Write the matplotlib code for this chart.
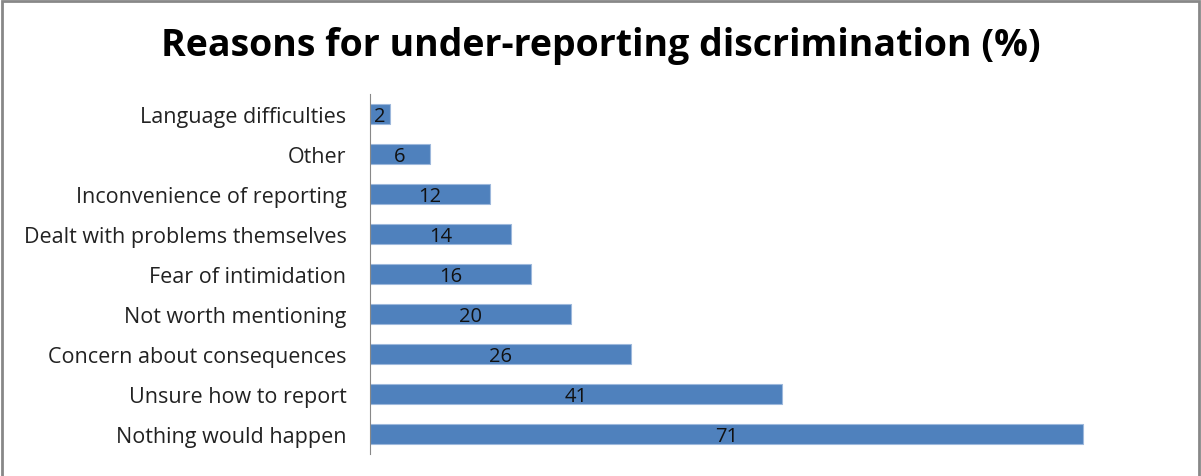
import matplotlib
matplotlib.use('Agg')
import matplotlib.pyplot as plt
from matplotlib.patches import Rectangle

# data, bottom to top as drawn
reasons = ['Nothing would happen', 'Unsure how to report', 'Concern about consequences',
           'Not worth mentioning', 'Fear of intimidation', 'Dealt with problems themselves',
           'Inconvenience of reporting', 'Other', 'Language difficulties']
percent = [71, 41, 26, 20, 16, 14, 12, 6, 2]

plt.rcParams['font.family'] = ['Open Sans', 'DejaVu Sans']

W, H = 1201, 477
fig = plt.figure(figsize=(W / 100, H / 100), dpi=100)
ax = fig.add_axes([370 / W, (H - 455) / H, 803 / W, 360 / H])

ypos = list(range(len(reasons)))
bars = ax.barh(ypos, percent, height=0.5, color='#4F81BD', edgecolor='#9DB8DC', linewidth=0.8)
for y, v in zip(ypos, percent):
    ax.text(v / 2, y - 0.05, str(v), ha='center', va='center', fontsize=14.5, color='#111111')

ax.set_xlim(0, 80)
ax.set_ylim(-0.5, len(reasons) - 0.5)
ax.set_yticks(ypos)
ax.set_yticklabels(reasons, fontsize=15.5, color='#222222')
ax.tick_params(axis='y', length=0, pad=17)
ax.set_xticks([])
for s in ['top', 'right', 'bottom']:
    ax.spines[s].set_visible(False)
ax.spines['left'].set_color('#888888')

fig.text(0.5, 1 - 46 / H, 'Reasons for under-reporting discrimination (%)', ha='center', va='center',
         fontsize=27, fontweight='bold', color='black')

# outer frame
fig.patches.append(Rectangle((2 / W, -0.05), 1197 / W, 1.05 - 1.5 / H, transform=fig.transFigure,
                             fill=False, edgecolor='#888888', linewidth=2))

fig.savefig('out.png', dpi=100)
